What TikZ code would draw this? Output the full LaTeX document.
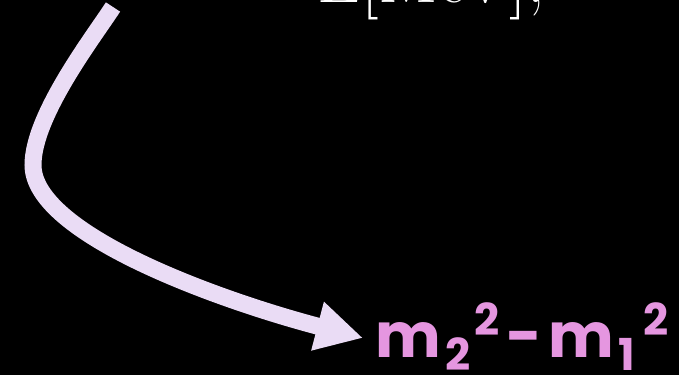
\documentclass[tikz,border=0pt]{standalone}
\usepackage{fontspec}
\newfontfamily\pinkfont{Poppins}
\usetikzlibrary{arrows.meta}
\definecolor{arrowcol}{HTML}{EADCF5}
\definecolor{pinkcol}{HTML}{E596E0}
\tikzset{
  flow/.style={draw=arrowcol, line width=17pt, line cap=butt,
    -{Triangle[length=47pt,width=47pt]}},
  toptext/.style={text=white, font=\fontsize{70}{72}\selectfont, inner sep=0pt, anchor=base west},
  pinktext/.style={text=pinkcol, font=\pinkfont\bfseries\fontsize{62}{64}\selectfont, inner sep=0pt, anchor=base west}
}
\newcommand{\sbsp}[3]{{\fontsize{44}{46}\selectfont\kern5pt\raisebox{-0.3em}{#1}\kern#3\raisebox{0.5em}{#2}}}
\begin{document}
\begin{tikzpicture}[x=1pt,y=-1pt]
  \fill[black] (0,0) rectangle (679,375);
  \useasboundingbox (0,0) rectangle (679,375);
  \node[toptext] (energy) at (317,2) {E[MeV],};
  \node[pinktext] (mass) at (375,357) {m\sbsp{2}{2}{4pt}\kern6pt-\kern6pt m\sbsp{1}{2}{8pt}};
  \coordinate (start) at (113,7);
  \coordinate (bend) at (33,165);
  \coordinate (tip) at (363,338);
  \draw[flow] (start) .. controls (95,35) and (33,115) .. (bend)
     .. controls (33,235) and (225,302) .. (tip);
\end{tikzpicture}
\end{document}
